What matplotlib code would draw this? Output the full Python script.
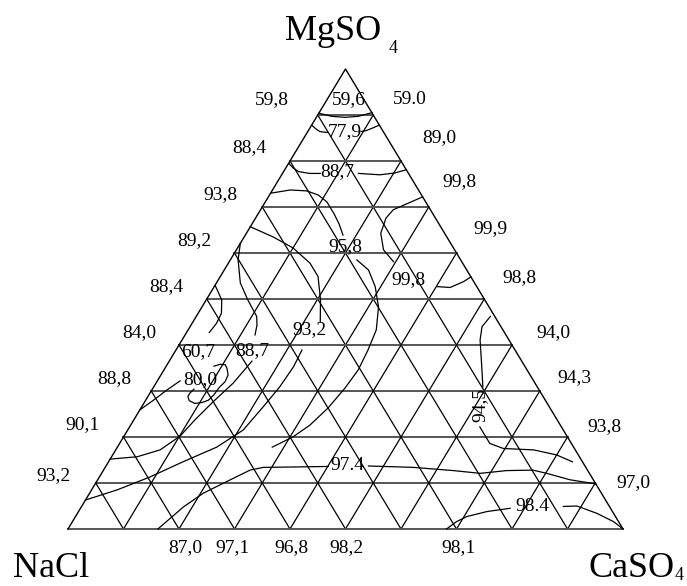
import numpy as np
import matplotlib.pyplot as plt

plt.rcParams['font.family'] = 'Liberation Serif'

# contour lines, points given as (CaSO4 %, MgSO4 %), NaCl is the rest
curve_a = [(0, 90.4), (2.7, 89.7), (5.2, 89.5), (7.4, 89.7), (9.5, 90.5)]
curve_b1 = [(0, 87.8), (1.3, 86.9), (2.2, 86.4), (3.6, 86.2)]
curve_b2 = [(9.6, 86.4), (10.4, 86.6), (11.2, 87.1), (12.2, 87.8)]
curve_c1 = [(0, 79.5), (1.3, 78.5), (2.7, 77.7), (4.9, 77.3), (6.8, 77.3)]
curve_c2 = [(13.7, 77.3), (17.7, 77.0), (20.2, 77.4), (21.9, 78.1)]
curve_d = [(0, 73.0), (3.2, 73.7), (6.3, 73.5), (8.8, 72.6), (11.1, 71.1),
           (13.7, 68.5), (15.7, 66.3), (17.6, 63.9)]
curve_e = [(0, 65.7), (5.2, 63.5), (10.0, 61.1), (14.7, 57.8), (17.6, 54.9),
           (20.6, 49.8), (22.9, 45.1)]
curve_f = [(0, 62.1), (1.4, 58.5), (4.3, 53.5), (7.5, 49.8), (10.9, 46.2),
           (11.9, 44.3), (12.6, 42.2)]
curve_g = [(0, 53.0), (2.8, 49.8), (4.2, 46.9), (4.4, 44.7), (4.1, 42.7)]
curve_h = [(27.8, 72.2), (25.7, 70.7), (23.9, 69.4), (23.5, 67.6), (24.2, 64.3),
           (26.5, 60.7), (29.6, 58.1)]
curve_i = [(40.1, 52.7), (42.6, 52.5), (44.4, 53.8), (45.2, 54.8)]
curve_j = [(22.8, 58.5), (26.0, 56.3), (29.0, 52.7), (31.8, 48.3), (33.9, 43.3),
           (34.6, 38.9), (35.0, 34.6), (34.6, 30.7), (33.7, 26.3), (32.3, 22.6),
           (30.5, 20.0), (27.9, 17.8)]
curve_k1 = [(53.0, 46.2), (52.6, 44.0), (53.7, 41.1), (56.9, 35.3), (59.3, 30.9)]
curve_k2 = [(63.1, 22.2), (66.7, 18.6), (69.7, 17.5), (75.3, 17.2), (80.0, 16.1),
            (83.6, 14.6)]
curve_l1 = [(16.2, 0), (18.4, 4.8), (20.5, 7.8), (23.9, 10.7), (26.4, 12.8),
            (28.5, 13.4), (35.1, 13.5), (40.1, 13.6)]
curve_l2 = [(47.3, 13.7), (55.5, 13.4), (63.1, 12.7), (68.2, 12.1), (72.7, 12.7),
            (77.4, 12.8), (80.2, 12.1), (85.1, 10.7), (90.2, 9.8)]
curve_m1 = [(68.2, 0), (69.2, 1.6), (70.5, 2.7), (73.6, 3.8), (77.4, 4.5)]
curve_m2 = [(86.8, 4.9), (89.2, 5.0), (93.6, 3.4), (97.5, 1.6), (100, 0)]
curve_n = [(14.9, 36.5), (13.9, 31.7), (12.3, 27.6), (11.0, 23.7), (10.1, 20.2),
           (8.0, 17.2), (4.6, 15.7), (0, 15.2)]
curve_o = [(22.7, 38.9), (23.0, 35.3), (22.7, 30.9), (21.9, 26.6), (20.8, 21.5),
           (17.9, 17.8), (13.4, 14.6), (9.1, 11.3), (4.6, 8.5), (0, 6.3)]
curve_p = [(0, 25.9), (1.4, 28.0), (2.7, 30.2), (4.1, 32.2)]
curve_q = [(8.6, 35.4), (9.5, 35.8), (10.5, 35.7), (11.2, 34.9), (12.1, 33.5),
           (12.3, 32.0), (11.9, 30.9), (11.8, 30.2), (11.7, 29.1), (11.3, 28.0),
           (10.4, 27.5), (9.2, 27.3), (7.9, 27.9), (7.2, 28.8), (7.2, 29.6),
           (7.5, 30.4)]

curves = [curve_a, curve_b1, curve_b2, curve_c1, curve_c2, curve_d, curve_e,
          curve_f, curve_g, curve_h, curve_i, curve_j, curve_k1, curve_k2,
          curve_l1, curve_l2, curve_m1, curve_m2, curve_n, curve_o, curve_p,
          curve_q]

# values written around the triangle
left_vals = ['59,8', '88,4', '93,8', '89,2', '88,4', '84,0', '88,8', '90,1', '93,2']
right_vals = ['59.0', '89,0', '99,8', '99,9', '98,8', '94,0', '94,3', '93,8', '97,0']
bottom_vals = ['87,0', '97,1', '96,8', '98,2', '98,1']
inner_vals = ['59,6', '77,9', '88,7', '95,8', '99,8', '93,2', '60,7', '88,7',
              '80,0', '97.4', '98.4']

left_pos = [(36.8, 93.3), (32.6, 83.0), (27.4, 72.8), (22.7, 62.6), (17.7, 52.6),
            (12.8, 42.8), (8.3, 32.6), (2.7, 22.8), (-2.7, 11.7)]
right_pos = [(61.6, 93.3), (66.9, 85.0), (70.5, 75.6), (76.2, 65.2), (81.4, 54.6),
             (87.4, 42.8), (91.2, 33.0), (96.6, 22.2), (101.8, 10.0)]
bottom_x = [21.1, 29.6, 40.2, 50.1, 70.3]
inner_pos = [(50.6, 93.3), (49.9, 86.5), (48.6, 77.8), (49.9, 61.5), (61.4, 54.3),
             (43.6, 43.3), (23.4, 38.5), (33.3, 38.7), (23.8, 32.4), (50.3, 13.9),
             (83.6, 5.0)]


def tern(pts):
    a = np.array(pts, dtype=float)
    return a[:, 0] + a[:, 1] / 2, a[:, 1]


fig = plt.figure(figsize=(6.87, 5.86), dpi=100)
ax = fig.add_axes([0, 0, 1, 1])
ax.set_xlim(-12.25, 111.53)
ax.set_ylim(-12.39, 115.0)
ax.axis('off')

# grid, 10 steps in every direction
for k in range(1, 10):
    v = k * 10
    ax.plot(*tern([(0, v), (100 - v, v)]), color='#555555', lw=1.4)
    ax.plot(*tern([(v, 0), (v, 100 - v)]), color='black', lw=0.9)
    ax.plot(*tern([(100 - v, 0), (0, 100 - v)]), color='black', lw=0.9)

ax.plot(*tern([(0, 0), (100, 0)]), color='#555555', lw=1.4)
ax.plot(*tern([(0, 0), (0, 100), (100, 0)]), color='black', lw=1.0)

for c in curves:
    ax.plot(*tern(c), color='black', lw=0.9)

fs = 14
for t, (x, y) in zip(left_vals, left_pos):
    ax.text(x, y, t, fontsize=fs, ha='center', va='center')
for t, (x, y) in zip(right_vals, right_pos):
    ax.text(x, y, t, fontsize=fs, ha='center', va='center')
for t, x in zip(bottom_vals, bottom_x):
    ax.text(x, -4.1, t, fontsize=fs, ha='center', va='center')
for t, (x, y) in zip(inner_vals, inner_pos):
    ax.text(x, y, t, fontsize=fs, ha='center', va='center')
ax.text(74.2, 27.0, '94,5', fontsize=fs, ha='center', va='center', rotation=90)

# corner names
ax.text(39.1, 106.3, 'MgSO', fontsize=26, ha='left', va='baseline')
ax.text(57.7, 103.5, '4', fontsize=13, ha='left', va='baseline')
ax.text(-9.9, -10.5, 'NaCl', fontsize=26, ha='left', va='baseline')
ax.text(93.7, -10.5, 'CaSO', fontsize=26, ha='left', va='baseline')
ax.text(109.3, -11.0, '4', fontsize=13, ha='left', va='baseline')

plt.savefig('out.png', dpi=100)
